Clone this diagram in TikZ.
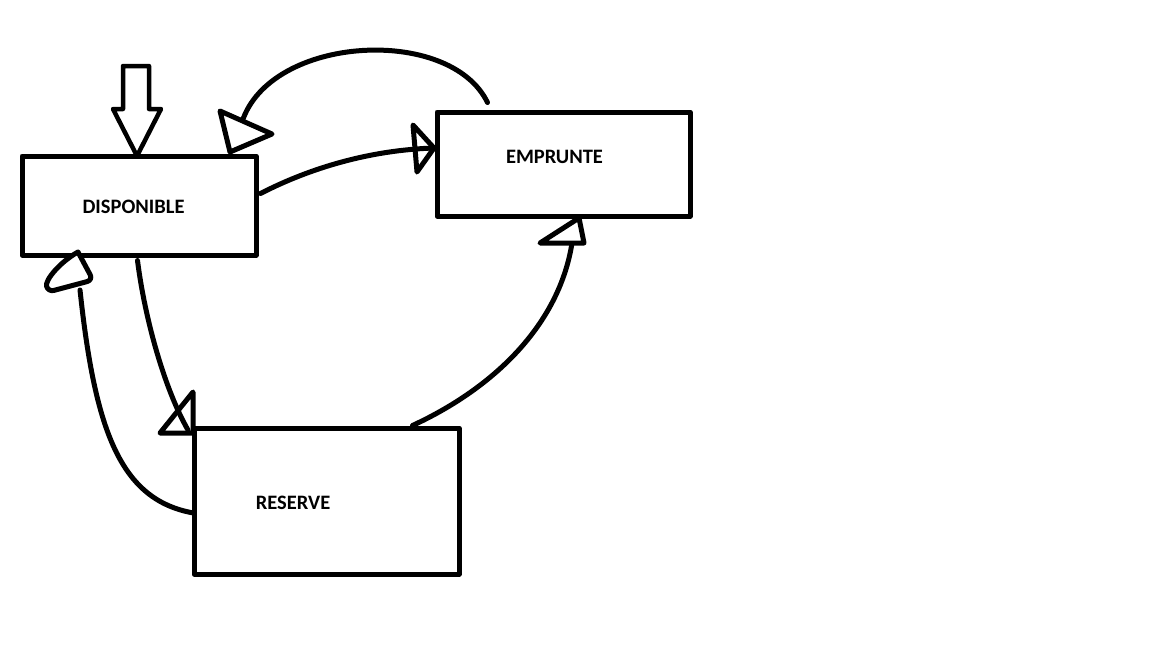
\documentclass[tikz,border=0pt]{standalone}
\usepackage{fontspec}
\setmainfont{Carlito}
\begin{document}
\begin{tikzpicture}[x=1pt,y=-1pt,
  line cap=round, line join=round,
  box/.style={draw=black, line width=5pt, minimum width=#1, inner sep=0pt},
  lbl/.style={font=\fontsize{20.5}{22}\selectfont\bfseries, inner sep=0pt},
  conn/.style={draw=black, line width=5pt},
  tip/.style={draw=black, line width=5pt, fill=white}]
\useasboundingbox (0,0) rectangle (1152,648);
\fill[white] (0,0) rectangle (1152,648);
% boxes
\node[box=234pt, minimum height=99pt] (disp) at (139,205.5) {};
\node[box=253pt, minimum height=104pt] (emp) at (563.5,164) {};
\node[box=265pt, minimum height=146pt] (res) at (326.5,501) {};
% labels
\node[lbl] (tdisp) at (133.5,207) {DISPONIBLE};
\node[lbl] (temp) at (554.5,157) {EMPRUNTE};
\node[lbl] (tres) at (293,503) {RESERVE};
% incoming hollow arrow
\draw[line width=4.5pt, fill=white] (123,66) -- (149,66) -- (149,109) -- (161,109) -- (137,156) -- (113,109) -- (123,109) -- cycle;
% connector end points
\coordinate (e1s) at ([shift={(53,-7)}]emp.north west);
\coordinate (e1e) at (242,122);
\coordinate (e2s) at ([shift={(2,-12)}]disp.east);
\coordinate (e2e) at ([shift={(0,-16)}]emp.west);
\coordinate (e3s) at ([shift={(221,0)}]res.north west);
\coordinate (e3e) at (572,243);
\coordinate (e4s) at ([shift={(118,3)}]disp.south west);
\coordinate (e4e) at (188,430);
\coordinate (e5s) at ([shift={(2,12)}]res.west);
\coordinate (e5e) at (80,290);
% connectors
\draw[conn] (e1s) .. controls (450,25) and (270,35) .. (e1e);
\draw[tip] (220,111) -- (272,134) -- (230,152) -- cycle;
\draw[conn] (e2s) .. controls (310,168) and (370,150) .. (e2e);
\draw[conn] (413,125) -- (434,148) -- (417,172) -- cycle;
\draw[conn] (e3s) .. controls (500,385) and (560,320) .. (e3e);
\draw[tip] (540,243) -- (584,243) -- (579,218) -- cycle;
\draw[conn] (e4s) .. controls (145,320) and (165,390) .. (e4e);
\draw[conn] (193,392) -- (160,433) -- (193,433) -- cycle;
\draw[conn] (e5s) .. controls (120,500) and (95,430) .. (e5e);
\draw[tip, rounded corners=6pt] (78,252) -- (93,280) -- (48,292) .. controls (45,280) and (60,262) .. (78,252);
\end{tikzpicture}
\end{document}
